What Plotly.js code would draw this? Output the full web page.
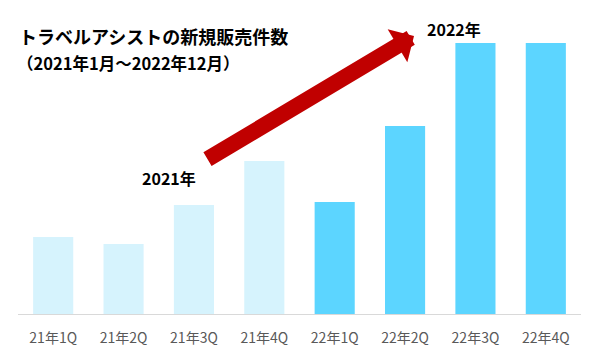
<!DOCTYPE html>
<html>
<head>
<meta charset="utf-8">
<script src="https://cdn.plot.ly/plotly-3.0.1.min.js"></script>
<style>html,body{margin:0;padding:0;background:#fff;}#chart{width:600px;height:360px;}</style>
</head>
<body>
<div id="chart"></div>
<script>
// Data (arbitrary units)
const categories = ["21年1Q","21年2Q","21年3Q","21年4Q","22年1Q","22年2Q","22年3Q","22年4Q"];
const salesCounts = [77, 70, 109, 153, 112, 188, 271, 271];
const barColors = ["#D6F3FD","#D6F3FD","#D6F3FD","#D6F3FD","#5CD5FF","#5CD5FF","#5CD5FF","#5CD5FF"];
const titleText = "トラベルアシストの新規販売件数";
const subtitleText = "（2021年1月～2022年12月）";
const label2021 = "2021年";
const label2022 = "2022年";

// layout geometry (pixels)
const W = 600, H = 360;
const mL = 18, mR = 19, mT = 41, mB = 46;
const plotW = W - mL - mR, plotH = H - mT - mB;
const px = x => (x - mL) / plotW;
const py = y => (H - mB - y) / plotH;

const font = '"Noto Sans CJK JP", "Noto Sans", sans-serif';

const trace = {
  type: 'bar',
  x: categories,
  y: salesCounts,
  marker: {color: barColors, line: {width: 0}},
  hoverinfo: 'none'
};

const layout = {
  width: W, height: H,
  margin: {l: mL, r: mR, t: mT, b: mB, pad: 0},
  paper_bgcolor: '#ffffff',
  plot_bgcolor: '#ffffff',
  showlegend: false,
  bargap: 0.43,
  xaxis: {
    type: 'category',
    showgrid: false,
    zeroline: false,
    showline: true,
    linecolor: '#D9D9D9',
    linewidth: 1,
    ticks: '',
    tickfont: {family: font, size: 14, color: '#595959'},
    ticklabelstandoff: 11,
    fixedrange: true
  },
  yaxis: {
    range: [0, plotH],
    visible: false,
    showgrid: false,
    zeroline: false,
    fixedrange: true
  },
  annotations: [
    {xref: 'paper', yref: 'paper', x: px(17), y: py(36), xanchor: 'left', yanchor: 'middle',
     text: '<b>' + titleText + '</b>', showarrow: false,
     font: {family: font, size: 18, color: '#000000'}},
    {xref: 'paper', yref: 'paper', x: px(15), y: py(63), xanchor: 'left', yanchor: 'middle',
     text: '<b>' + subtitleText + '</b>', showarrow: false,
     font: {family: font, size: 16.5, color: '#000000'}},
    {xref: 'paper', yref: 'paper', x: px(169), y: py(178), xanchor: 'center', yanchor: 'middle',
     text: '<b>' + label2021 + '</b>', showarrow: false,
     font: {family: font, size: 16, color: '#000000'}},
    {xref: 'paper', yref: 'paper', x: px(454), y: py(29), xanchor: 'center', yanchor: 'middle',
     text: '<b>' + label2022 + '</b>', showarrow: false,
     font: {family: font, size: 16, color: '#000000'}},
    {xref: 'paper', yref: 'paper', x: px(414), y: py(36),
     text: '', showarrow: true, arrowhead: 1, arrowsize: 0.4, arrowwidth: 16,
     arrowcolor: '#C00000', ax: -208, ay: 124, standoff: 0}
  ]
};

Plotly.newPlot('chart', [trace], layout, {displayModeBar: false, staticPlot: true});
</script>
</body>
</html>
